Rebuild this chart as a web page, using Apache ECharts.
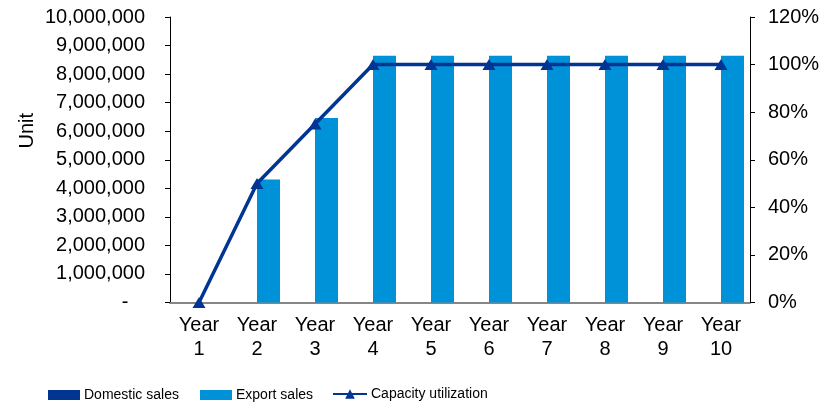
<!DOCTYPE html>
<html><head><meta charset="utf-8">
<script src="https://cdn.jsdelivr.net/npm/echarts@6/dist/echarts.min.js"></script>
<style>html,body{margin:0;padding:0;background:#fff}#c{width:826px;height:407px}</style>
</head><body><div id="c"></div>
<script>
const categories = ['Year\n1','Year\n2','Year\n3','Year\n4','Year\n5','Year\n6','Year\n7','Year\n8','Year\n9','Year\n10'];
const domesticSales = [0,0,0,0,0,0,0,0,0,0];
const exportSales = [0,4310000,6465000,8640000,8640000,8640000,8640000,8640000,8640000,8640000];
const capacityUtilization = [0,50,75,100,100,100,100,100,100,100];
const FONT = 'Liberation Sans, Arial, sans-serif';
const chart = echarts.init(document.getElementById('c'));
const legendBase = {top: 388, padding:0, itemGap: 0, textStyle:{fontFamily:FONT, fontSize:14, color:'#000', padding:[0,0,0,-1]}, itemWidth:32, itemHeight:10};
chart.setOption({
  animation:false,
  textStyle:{fontFamily:FONT},
  grid:{left:170,right:76,top:17,bottom:104.5},
  legend:[
    Object.assign({}, legendBase, {left:48, data:[{name:'Domestic sales', icon:'rect'}]}),
    Object.assign({}, legendBase, {left:200, data:[{name:'Export sales', icon:'rect'}]}),
    Object.assign({}, legendBase, {left:332, itemWidth:34, itemHeight:12, top:387, data:[{name:'Capacity utilization'}]})
  ],
  graphic:[{type:'text', left:17, top:113, rotation:Math.PI/2, style:{text:'Unit', font:'20px '+FONT, fill:'#000'}}],
  xAxis:{type:'category', data:categories,
    axisLine:{lineStyle:{color:'#868686', width:2}},
    axisTick:{length:6, lineStyle:{color:'#000'}},
    axisLabel:{color:'#000', fontSize:20, lineHeight:24, margin:11, interval:0}},
  yAxis:[
    {type:'value', min:0, max:10000000, interval:1000000,
     axisLine:{show:true, lineStyle:{color:'#000'}},
     axisTick:{show:true, length:5, lineStyle:{color:'#000'}},
     splitLine:{show:false},
     axisLabel:{color:'#000', fontSize:20, margin:25, formatter:v=> v===0?'-   ':v.toLocaleString('en-US')}},
    {type:'value', min:0, max:120, interval:20,
     axisLine:{show:true, lineStyle:{color:'#000'}},
     axisTick:{show:true, length:5, lineStyle:{color:'#000'}},
     splitLine:{show:false},
     axisLabel:{color:'#000', fontSize:20, margin:18, formatter:'{value}%'}}
  ],
  series:[
    {name:'Domestic sales', type:'bar', data:domesticSales, barWidth:23, barGap:'0%', itemStyle:{color:'#003591'}},
    {name:'Export sales', type:'bar', data:exportSales, barWidth:23, barGap:'0%', itemStyle:{color:'#0092D8'}},
    {name:'Capacity utilization', type:'line', yAxisIndex:1, data:capacityUtilization,
     lineStyle:{color:'#003594', width:3.5}, itemStyle:{color:'#003594'},
     symbol:'triangle', symbolSize:[13,11], showAllSymbol:true}
  ]
});
</script></body></html>
